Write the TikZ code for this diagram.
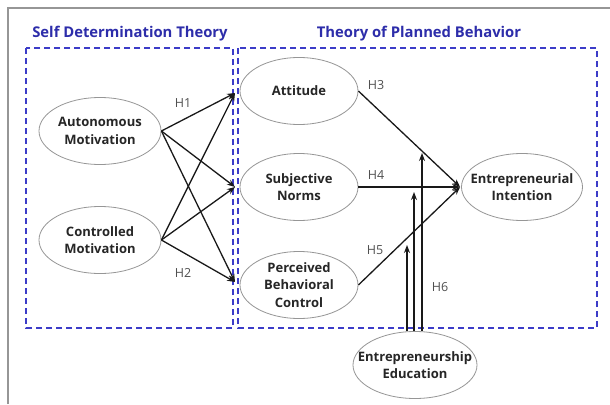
\documentclass[tikz,border=0pt]{standalone}
\usepackage{fontspec}
\setmainfont{Open Sans}
\usetikzlibrary{arrows.meta,shapes.geometric,calc}
\definecolor{framegray}{RGB}{150,150,150}
\definecolor{theoryblue}{RGB}{45,45,170}
\definecolor{dashblue}{RGB}{60,60,200}
\definecolor{labelgray}{RGB}{80,80,80}
\begin{document}
\begin{tikzpicture}[x=1pt,y=-1pt,
  construct/.style={ellipse, draw=framegray, line width=0.8pt, fill=white,
    minimum width=122pt, minimum height=67pt, inner xsep=-30pt, inner ysep=-12pt,
    align=center, text=black!85, font=\bfseries\fontsize{13}{17.5}\selectfont},
  theorybox/.style={draw=dashblue, line width=1.8pt, dash pattern=on 6pt off 4pt},
  theorytitle/.style={text=theoryblue, font=\bfseries\fontsize{14.8}{16}\selectfont},
  path/.style={draw=black!90, line width=1.3pt, -{Stealth[length=8pt,width=6pt]}},
  hyp/.style={text=labelgray, font=\fontsize{12.5}{14}\selectfont}]
\useasboundingbox (0,0) rectangle (610,404);
\fill[white] (0,0) rectangle (610,404);
% outer frame (top and left edges)
\draw[framegray, line width=1.2pt] (8,404) -- (8,8) -- (610,8);

% theory groupings
\draw[theorybox] (26,48) rectangle (233,328);
\draw[theorybox] (238,48) rectangle (597,328);
\node[theorytitle] (sdt) at (130,34) {Self Determination Theory};
\node[theorytitle] (tpb) at (419,34) {Theory of Planned Behavior};

% constructs
\node[construct] (am)  at (100,131) {Autonomous\\Motivation};
\node[construct] (cm)  at (100,240) {Controlled\\Motivation};
\node[construct, minimum width=118pt] (att) at (299,91)  {Attitude};
\node[construct, minimum width=118pt] (sn)  at (299,187) {Subjective\\Norms};
\node[construct, minimum width=118pt] (pbc) at (299,285) {Perceived\\Behavioral\\Control};
\node[construct, minimum width=121pt] (ei)  at (522,187) {Entrepreneurial\\Intention};
\node[construct, minimum width=124pt] (ee)  at (415,365) {Entrepreneurship\\Education};

% arrow ends on the TPB boundary
\coordinate (inA) at (235,93);
\coordinate (inS) at (235,187);
\coordinate (inP) at (235,282);

% SDT -> TPB paths
\foreach \src in {am,cm}
  \foreach \dst in {inA,inS,inP}
    \draw[path] (\src.east) -- (\dst);

% TPB -> intention
\coordinate (eiIn) at ($(ei.west)+(-1,0)$);
\draw[path] (att.east) -- (eiIn);
\draw[path] (sn.east) -- (eiIn);
\draw[path] (pbc.east) -- (eiIn);

% moderation by entrepreneurship education
\coordinate (m5) at (407,245);
\coordinate (m4) at (414,192);
\coordinate (m3) at (422,153);
\coordinate (e5) at (407,331);
\coordinate (e4) at (414,331);
\coordinate (e3) at (422,331);
\draw[path] (e5) -- (m5);
\draw[path] (e4) -- (m4);
\draw[path] (e3) -- (m3);

% hypothesis labels
\node[hyp] (h1) at (183,103) {H1};
\node[hyp] (h2) at (183,273) {H2};
\node[hyp] (h3) at (376,85)  {H3};
\node[hyp] (h4) at (376,175) {H4};
\node[hyp] (h5) at (375,250) {H5};
\node[hyp] (h6) at (440,287) {H6};
\end{tikzpicture}
\end{document}
